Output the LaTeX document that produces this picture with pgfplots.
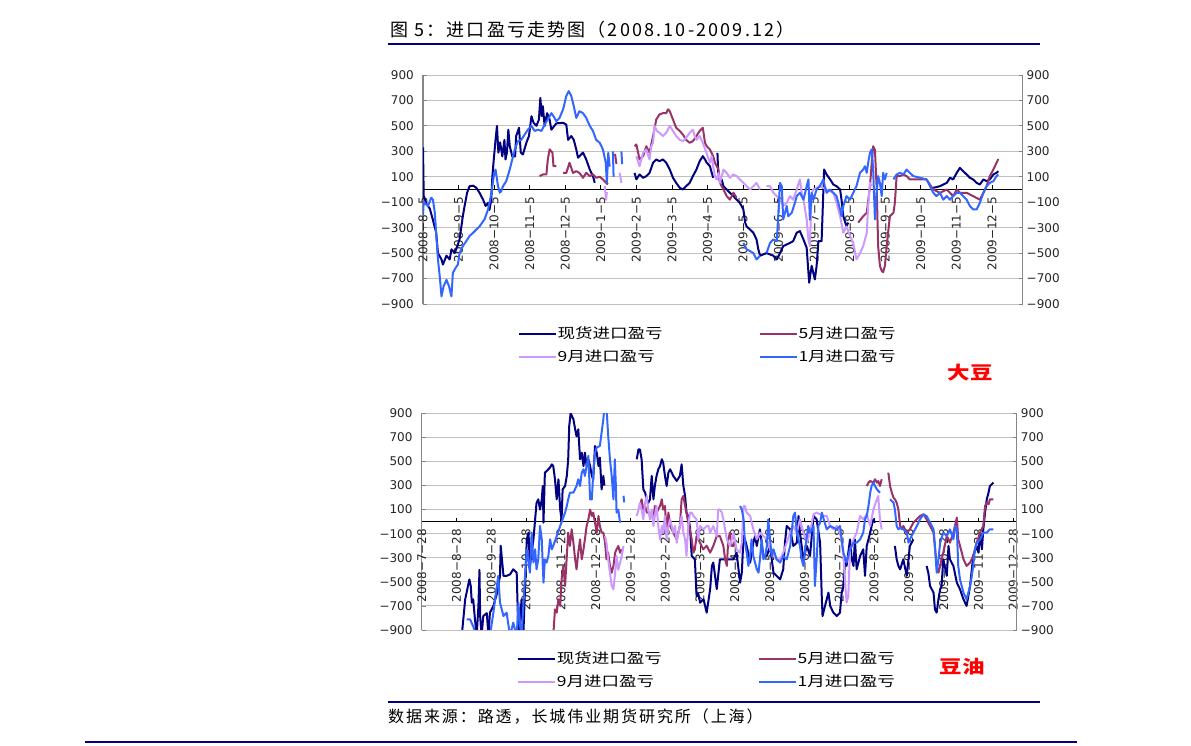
\documentclass[border=0pt]{standalone}
\usepackage{pgfplots}
\pgfplotsset{compat=1.18}
\usepackage{graphicx}
\usepackage{fontspec}
\setmainfont{DejaVu Sans}
\newfontfamily\cjk{Noto Sans CJK SC}
\newfontfamily\cjkls{Noto Sans CJK SC}[LetterSpace=12]
\newfontfamily\dv{DejaVu Sans}
\definecolor{cNavy}{HTML}{000080}
\definecolor{cMaroon}{HTML}{993366}
\definecolor{cLilac}{HTML}{CC99FF}
\definecolor{cBlue}{HTML}{3366FF}
\definecolor{cGrid}{HTML}{C0C0C0}
\definecolor{cAxis}{HTML}{868686}
\definecolor{cRule}{HTML}{000080}

\pgfplotsset{
  frame/.style={
    scale only axis, anchor=south west,
    ymin=-900, ymax=900, xmin=0,
    axis x line=middle, axis y line=left,
    axis line style={-},
    x axis line style={black, line width=1.1pt},
    y axis line style={cAxis, line width=1.3pt},
    hide obscured x ticks=false,
    xtick align=inside, ytick align=inside,
    major tick length=4pt,
    x tick style={black, line width=0.8pt},
    y tick style={cAxis, line width=0.8pt},
    ymajorgrids, grid style={cGrid, line width=0.9pt},
    ytick={-900,-700,-500,-300,-100,100,300,500,700,900},
    yticklabels={−900,−700,−500,−300,−100,100,300,500,700,900},
    yticklabel style={font=\dv\fontsize{12}{13}\selectfont, inner xsep=9pt, text=black!85},
    xticklabel style={font=\dv\fontsize{12}{13}\selectfont, rotate=90, anchor=east, inner xsep=7pt, text=black!85},
  },
  plots/.style={
    scale only axis, anchor=south west,
    ymin=-900, ymax=900, xmin=0, hide axis, clip=true,
    unbounded coords=jump,
    legend columns=2,
    legend image code/.code={\draw[##1, line width=1.8pt] (0pt,0pt) -- (37pt,0pt);},
    legend style={draw=none, fill=none, inner sep=0pt, anchor=north west, row sep=7pt,
      nodes={inner sep=1pt, text height=11pt, text depth=3pt, font=\cjk\fontsize{14}{14}\selectfont}},
    legend cell align=left,
    every axis plot/.append style={line width=2pt, line join=round, mark=none},
  },
  rightax/.style={
    scale only axis, anchor=south west,
    ymin=-900, ymax=900, xmin=0,
    axis x line=none, axis y line=right, axis line style={-},
    y axis line style={cAxis, line width=1.3pt},
    xtick=\empty,
    ytick={-900,-700,-500,-300,-100,100,300,500,700,900},
    yticklabels={−900,−700,−500,−300,−100,100,300,500,700,900},
    ytick align=inside, major tick length=4pt,
    y tick style={cAxis, line width=0.8pt},
    yticklabel style={font=\dv\fontsize{12}{13}\selectfont, inner xsep=4pt, text=black!85},
  },
}
\newcommand{\lgA}[1]{\makebox[200pt][l]{\scalebox{1.25}[1]{#1}}}
\newcommand{\lgB}[1]{\scalebox{1.25}[1]{#1}}

\begin{document}
\begin{tikzpicture}
\fill[white] (0,0) rectangle (1191pt,746pt);

% ---------------- top chart: soybean ----------------
\begin{axis}[frame, at={(423pt,442pt)}, width=599.5pt, height=229pt, xmax=16.86,
  xtick={0,...,16},
  xticklabels={2008−8−5,2008−9−5,2008−10−5,2008−11−5,2008−12−5,2009−1−5,2009−2−5,2009−3−5,2009−4−5,2009−5−5,2009−6−5,2009−7−5,2009−8−5,2009−9−5,2009−10−5,2009−11−5,2009−12−5}]
\end{axis}
\begin{axis}[plots, at={(423pt,442pt)}, width=599.5pt, height=229pt, xmax=16.86,
  legend style={at={(0.158,-0.096)}}]
\addplot[cNavy] coordinates {
(0,330) (0.02,-50) (0.09,-110) (0.19,-150) (0.28,-240) (0.37,-340) (0.42,-500) (0.52,-550) (0.56,-590) (0.66,-520) (0.75,-550) (0.80,-470) (0.89,-500) (0.96,-450) (1.03,-390) (1.08,-290) (1.12,-210) (1.17,-130) (1.24,-26) (1.31,26) (1.41,30) (1.50,13) (1.59,-26) (1.69,-80) (1.76,-130) (1.83,-105) (1.87,-160) (1.92,-80) (1.95,100) (1.99,236) (2.04,390) (2.08,500) (2.12,290) (2.17,370) (2.23,260) (2.29,390) (2.32,236) (2.36,290) (2.40,470) (2.44,340) (2.51,260) (2.59,260) (2.62,420) (2.70,485) (2.75,290) (2.81,275) (2.91,370) (2.98,420) (3.05,576) (3.11,524) (3.19,500) (3.26,550) (3.30,720) (3.34,576) (3.37,655) (3.42,500) (3.49,600) (3.56,550) (3.61,470) (3.75,520) (3.94,524) (4.03,510) (4.08,390) (4.17,420) (4.24,390) (4.31,315) (4.36,250) (4.50,290) (4.59,236) (4.69,157) (4.78,105) (4.83,52)
(4.9,nan)
(5.95,130) (6.00,80) (6.09,118) (6.19,92) (6.28,105) (6.37,130) (6.47,210) (6.56,236) (6.65,222) (6.75,236) (6.84,210) (6.94,157) (7.03,92) (7.12,52) (7.22,13) (7.31,0) (7.40,26) (7.50,52) (7.59,105) (7.69,157) (7.78,222) (7.87,262) (7.93,236) (7.98,210) (8.07,183) (8.12,131) (8.16,92)
(8.2,nan)
(8.28,288) (8.31,79) (8.40,79) (8.45,26) (8.54,0) (8.63,-26) (8.73,-52) (8.82,-80) (8.91,-105) (9.01,-157) (9.06,-260) (9.10,-290) (9.20,-315) (9.29,-340) (9.38,-393) (9.43,-470) (9.48,-520) (9.66,-500) (9.85,-520) (9.95,-550) (10.04,-500) (10.13,-445) (10.23,-432) (10.32,-420) (10.41,-406) (10.51,-340) (10.60,-327) (10.70,-393) (10.79,-458) (10.84,-655) (10.86,-733) (10.93,-600) (11.02,-707) (11.07,-600) (11.12,-406) (11.21,-406) (11.28,157) (11.35,118) (11.45,79) (11.54,39) (11.63,26) (11.73,0) (11.77,-80) (11.82,-210) (11.91,-290) (11.96,-260)
(12.0,nan)
(14.35,13) (14.54,26) (14.73,52) (14.82,92) (14.91,79) (15.01,131) (15.10,170) (15.19,144) (15.29,118) (15.38,92) (15.47,79) (15.57,52) (15.66,39) (15.76,79) (15.85,65) (15.94,79) (16.04,118) (16.13,131) (16.18,144)
};
\addlegendentry{\lgA{现货进口盈亏}}
\addplot[cMaroon] coordinates {
(3.28,105) (3.37,118) (3.47,118) (3.51,236) (3.56,315) (3.64,290) (3.67,183) (3.75,183)
(3.8,nan)
(3.94,130) (4.03,130) (4.12,210) (4.22,130) (4.31,144) (4.40,130) (4.50,92) (4.59,131) (4.69,105) (4.78,118) (4.87,92) (4.97,100) (5.06,79) (5.15,52) (5.20,39)
(5.3,nan)
(5.40,280) (5.44,200)
(5.5,nan)
(5.95,340) (6.00,354) (6.09,236) (6.19,262) (6.28,340) (6.37,290) (6.47,420) (6.56,550) (6.65,590) (6.75,600) (6.84,600) (6.89,630) (6.94,615) (7.03,550) (7.12,485) (7.22,460) (7.31,432) (7.40,390) (7.50,367) (7.59,380) (7.69,420) (7.78,460) (7.87,485) (7.93,367) (7.98,340) (8.07,315) (8.16,262) (8.21,210) (8.31,157) (8.35,52) (8.45,0) (8.54,-52) (8.63,-80) (8.73,-26) (8.82,-65)
(8.9,nan)
(12.24,-260) (12.38,-210) (12.48,-183) (12.57,26) (12.62,210) (12.66,340) (12.71,310) (12.76,0) (12.80,-445) (12.85,-600) (12.90,-640) (12.94,-650) (12.99,-600) (13.04,-445) (13.13,-210) (13.23,-183) (13.27,-105) (13.32,105) (13.41,105) (13.51,118) (13.60,105) (13.69,79) (13.98,79) (14.16,79) (14.35,0) (14.54,-26) (14.73,0) (14.91,-52) (15.01,0) (15.10,-26) (15.29,-26) (15.47,-52) (15.66,-80) (15.76,-26) (15.85,26) (15.94,105) (16.04,157) (16.13,210) (16.18,240)
};
\addlegendentry{\lgB{5月进口盈亏}}
\addplot[cLilac] coordinates {
(5.11,26) (5.15,-80) (5.17,-20)
(5.3,nan)
(5.53,131) (5.58,52)
(5.7,nan)
(6.00,262) (6.09,183) (6.19,290) (6.28,315) (6.37,236) (6.42,340) (6.47,367) (6.51,500) (6.58,460) (6.65,445) (6.75,420) (6.84,445) (6.94,500) (7.03,460) (7.12,420) (7.22,390) (7.31,380) (7.40,406) (7.50,445) (7.59,470) (7.64,420) (7.69,390) (7.78,420) (7.87,367) (7.97,290) (8.07,210) (8.12,262) (8.16,180) (8.21,105) (8.26,79) (8.31,131) (8.35,52) (8.45,157) (8.54,131) (8.63,92) (8.73,118) (8.82,105) (8.91,79) (9.01,52) (9.10,26) (9.20,0) (9.29,26) (9.38,52) (9.43,26) (9.48,0)
(9.55,nan)
(9.66,26) (9.76,26) (9.85,-26) (9.95,-52) (10.04,-80) (10.13,-130) (10.23,-105) (10.32,-52) (10.41,-80) (10.51,0) (10.60,79) (10.65,-26) (10.70,-80) (10.79,-235) (10.84,-393) (10.88,-445) (10.93,-30) (10.98,0) (11.16,26) (11.54,-26) (11.63,-105) (11.73,-210) (11.82,-340) (11.91,-290) (12.01,-365) (12.10,-420) (12.19,-550) (12.29,-500) (12.38,-445) (12.48,-340) (12.52,-130) (12.57,52) (12.62,26)
};
\addlegendentry{\lgA{9月进口盈亏}}
\addplot[cBlue] coordinates {
(0,-200) (0.02,-100) (0.14,-130) (0.23,-65) (0.28,-80) (0.33,-180) (0.37,-340) (0.42,-550) (0.47,-680) (0.52,-840) (0.58,-760) (0.66,-710) (0.73,-760) (0.80,-840) (0.84,-655) (0.92,-615) (0.98,-590) (1.03,-500) (1.12,-445) (1.22,-405) (1.31,-365) (1.41,-340) (1.50,-315) (1.59,-290) (1.73,-235) (1.83,-157) (1.89,-80) (1.95,26) (1.99,105) (2.04,157) (2.11,26) (2.16,-26) (2.20,-13) (2.25,26) (2.34,65) (2.44,157) (2.51,236) (2.58,315) (2.67,380) (2.76,390) (2.86,432) (2.95,470) (3.05,500) (3.14,460) (3.23,470) (3.33,460) (3.42,510) (3.51,550) (3.61,600) (3.67,576) (3.75,537) (3.84,563) (3.94,630) (4.03,735) (4.10,773) (4.17,735) (4.24,655) (4.31,563) (4.40,615) (4.50,600) (4.59,563) (4.69,500) (4.78,460) (4.87,390) (4.97,367) (5.06,315) (5.14,210) (5.17,52) (5.21,288) (5.25,180)
(5.3,nan)
(5.34,300) (5.36,100)
(5.45,nan)
(5.58,300) (5.60,200)
(5.7,nan)
(9.01,-420) (9.10,-470) (9.20,-485) (9.29,-500) (9.38,-550) (9.48,-520)
(9.55,nan)
(9.66,-500) (9.76,-420) (9.85,-393) (9.95,-406) (10.04,52) (10.09,26) (10.13,-235) (10.23,-130) (10.27,-210) (10.37,-183) (10.46,-105) (10.51,-52) (10.60,-26) (10.70,-80) (10.79,26) (10.84,79) (10.88,-235) (10.93,-26) (10.98,-80) (11.07,0) (11.16,26) (11.26,79) (11.30,26) (11.35,-26) (11.45,0) (11.54,-26) (11.63,-52) (11.73,-157) (11.77,-210) (11.82,-130) (11.91,-52) (12.01,-80) (12.10,-26) (12.19,26) (12.29,131) (12.38,157) (12.43,183) (12.48,131) (12.52,210) (12.57,288) (12.62,315) (12.66,157) (12.71,-235) (12.76,-26) (12.80,105) (12.85,52) (12.90,-52) (12.94,131) (12.99,79) (13.04,131)
(13.1,nan)
(13.23,79) (13.32,118) (13.41,131) (13.51,118) (13.60,157) (13.69,131) (13.79,105) (13.98,92) (14.16,79) (14.26,26) (14.35,-26) (14.44,-52) (14.54,-26) (14.63,-80) (14.73,-52) (14.82,-80) (14.91,-52) (15.01,-26) (15.10,-26) (15.19,-52) (15.29,-80) (15.38,-130) (15.47,-157) (15.57,-157) (15.66,-105) (15.76,-26) (15.85,26) (15.94,52) (16.04,65) (16.13,105) (16.18,118)
};
\addlegendentry{\lgB{1月进口盈亏}}
\end{axis}
\begin{axis}[rightax, at={(423pt,442pt)}, width=599.5pt, height=229pt, xmax=16.86]
\end{axis}

% ---------------- bottom chart: soybean oil ----------------
\begin{axis}[frame, at={(421.7pt,116pt)}, width=595pt, height=216.7pt, xmax=17.1,
  xtick={0,...,17},
  xticklabels={2008−7−28,2008−8−28,2008−9−28,2008−10−28,2008−11−28,2008−12−28,2009−1−28,2009−2−28,2009−3−28,2009−4−28,2009−5−28,2009−6−28,2009−7−28,2009−8−28,2009−9−28,2009−10−28,2009−11−28,2009−12−28}]
\end{axis}
\begin{axis}[plots, at={(421.7pt,116pt)}, width=595pt, height=216.7pt, xmax=17.1,
  legend style={at={(0.160,-0.097)}}]
\addplot[cNavy] coordinates {
(1.15,-950) (1.25,-645) (1.29,-590) (1.37,-480) (1.41,-535) (1.44,-673) (1.48,-645) (1.53,-810) (1.58,-950) (1.63,-700) (1.66,-400) (1.68,-784) (1.72,-950) (1.77,-784) (1.87,-760) (1.92,-950) (1.96,-756) (2.06,-700) (2.16,-600) (2.25,-450) (2.27,-200) (2.35,-450) (2.44,-450) (2.54,-438) (2.63,-396) (2.73,-424) (2.78,-950) (2.83,-810) (2.87,-645) (2.92,-950) (3.02,-147) (3.07,-91) (3.11,-368) (3.21,-150) (3.30,155) (3.35,185) (3.40,100) (3.45,185) (3.48,296) (3.50,-8) (3.54,407) (3.59,420) (3.69,450) (3.74,476) (3.78,462) (3.83,352) (3.88,185) (3.93,352) (3.98,100) (4.02,19) (4.05,268) (4.12,296) (4.17,380) (4.21,518) (4.24,795) (4.28,900) (4.36,850) (4.41,767) (4.45,709) (4.50,767) (4.55,518) (4.60,573) (4.65,462) (4.69,573) (4.74,462) (4.79,518) (4.84,462) (4.89,380) (4.93,352) (4.98,629) (5.03,573) (5.08,462) (5.12,532) (5.17,268) (5.22,380) (5.25,300)
(5.3,nan)
(6.18,518) (6.23,600) (6.27,600) (6.32,518) (6.37,268) (6.42,241) (6.47,185) (6.51,155) (6.56,185) (6.61,380) (6.66,185) (6.70,296) (6.75,380) (6.80,435) (6.85,462) (6.90,518) (6.94,490) (6.99,380) (7.04,296) (7.09,407) (7.14,435) (7.23,380) (7.33,338) (7.42,380) (7.47,476) (7.52,296) (7.57,213) (7.61,75) (7.66,47) (7.71,-50) (7.76,-285) (7.85,-313) (7.90,-618) (7.95,-600) (8.00,-673) (8.10,-645) (8.19,-756) (8.29,-560) (8.34,-368) (8.38,-340) (8.48,-560) (8.57,-313) (8.96,-313) (9.05,-258) (9.15,-507) (9.20,-424) (9.25,-120) (9.29,-147) (9.34,-202) (9.44,-340) (9.53,-175) (9.58,-120) (9.63,-202) (9.72,-64) (9.82,-285) (9.92,-285) (10.01,-202) (10.11,-424) (10.20,-450) (10.30,-480) (10.39,-396) (10.44,-175) (10.49,-36) (10.59,-64) (10.68,-202) (10.78,-175) (10.83,47) (10.87,-91) (10.97,-313) (11.07,-202) (11.16,-285) (11.26,47) (11.35,19) (11.45,-175) (11.50,-645) (11.52,-784) (11.59,-700) (11.69,-590) (11.74,-700) (11.83,-756) (11.93,-784) (12.02,-756) (12.07,-590) (12.12,-535) (12.17,-313) (12.21,-368) (12.31,-147) (12.36,-313) (12.41,-368) (12.45,-147) (12.50,-396) (12.60,-285) (12.69,-230) (12.74,-450) (12.79,-202) (12.89,-91) (12.93,-36) (12.98,19) (13.03,-8)
(13.1,nan)
(13.60,-202) (13.65,-313) (13.70,-368) (13.75,-396) (13.84,-313) (13.94,-450) (14.03,-202) (14.13,-147)
(14.2,nan)
(14.51,-368) (14.56,-424) (14.61,-535) (14.71,-590) (14.75,-728) (14.80,-756) (14.85,-645) (14.90,-562) (14.94,-535) (14.99,-313) (15.09,-450) (15.14,-202) (15.18,-313) (15.28,-368) (15.38,-507) (15.47,-562) (15.57,-645) (15.66,-700) (15.76,-535) (15.85,-285) (15.95,-202) (16.00,-258) (16.05,-91) (16.10,-230) (16.14,-64) (16.19,75) (16.24,185) (16.29,241) (16.33,296) (16.38,310) (16.43,324)
};
\addlegendentry{\lgA{现货进口盈亏}}
\addplot[cMaroon] coordinates {
(3.78,-950) (3.83,-728) (3.88,-756) (3.93,-645) (3.98,-700) (4.02,-480) (4.07,-368) (4.12,-535) (4.17,-285) (4.21,-91) (4.26,-202) (4.31,-64) (4.36,-175) (4.41,-313) (4.45,-396) (4.50,-258) (4.55,-147) (4.60,-313) (4.65,-230) (4.69,-147) (4.74,-36) (4.79,19) (4.84,100) (4.89,47) (4.93,75) (4.98,-8) (5.03,-91) (5.08,47) (5.12,-36) (5.17,-91) (5.22,-91) (5.27,-175) (5.31,-313) (5.36,-258) (5.41,-368) (5.46,-424) (5.51,-368) (5.56,-258) (5.60,-230) (5.65,-202) (5.70,-258) (5.75,-230)
(5.8,nan)
(6.27,130) (6.32,185) (6.37,100) (6.42,130) (6.47,75) (6.56,75) (6.66,19) (6.70,130) (6.75,75) (6.85,130) (6.90,185) (6.94,100) (6.99,130) (7.04,-91) (7.09,75) (7.14,-36) (7.23,-91) (7.33,-147) (7.42,-36) (7.47,185) (7.52,213) (7.57,130) (7.61,75) (7.66,-8) (7.71,-64) (7.76,-147) (7.81,-258) (7.85,-230) (7.90,-120) (8.00,-175) (8.09,-230) (8.19,-200) (8.29,-258) (8.38,-202) (8.48,-120) (8.57,-120) (8.67,-202) (8.72,-313) (8.77,-368) (8.81,-147) (8.86,-91) (8.91,-202) (8.96,-202) (9.01,-147)
(9.1,nan)
(12.79,296) (12.84,324) (12.89,338) (12.98,324) (13.03,352) (13.08,324) (13.12,338) (13.17,296) (13.22,352)
(13.3,nan)
(13.41,407) (13.46,296) (13.51,241) (13.56,199) (13.60,185) (13.65,158) (13.70,100) (13.75,-36) (13.80,-64) (13.84,-36) (13.94,-91) (14.03,-64) (14.13,-8) (14.32,47) (14.42,61) (14.51,19) (14.61,-36) (14.71,-91) (14.80,-368) (14.85,-424) (14.90,-368) (14.94,-313) (14.99,-258) (15.09,-120) (15.14,-147) (15.18,-175) (15.28,-91) (15.38,33) (15.42,-147) (15.47,-200) (15.57,-313) (15.66,-368) (15.76,-340) (15.85,-285) (15.95,-175) (16.05,-91) (16.14,-36) (16.19,130) (16.24,158) (16.29,144) (16.33,185) (16.43,185)
};
\addlegendentry{\lgB{5月进口盈亏}}
\addplot[cLilac] coordinates {
(5.27,-120) (5.31,-175) (5.36,-313) (5.41,-424) (5.46,-535) (5.51,-562) (5.56,-424) (5.60,-285) (5.65,-400) (5.75,-285) (5.80,-202)
(5.9,nan)
(6.18,47) (6.23,100) (6.27,155) (6.32,100) (6.37,19) (6.42,155) (6.47,213) (6.51,100) (6.56,19) (6.61,100) (6.66,-36) (6.70,47) (6.75,130) (6.80,-36) (6.85,-147) (6.90,-36) (6.94,-91) (6.99,47) (7.04,-147) (7.09,-36) (7.14,19) (7.23,-91) (7.28,-36) (7.33,-175) (7.38,-91) (7.42,-36) (7.47,47) (7.52,-91) (7.57,-147) (7.61,-285) (7.66,-36) (7.71,75) (7.76,75) (7.81,47) (7.90,19) (7.95,-147) (8.00,-36) (8.10,-64) (8.19,-36) (8.24,-36) (8.29,-91) (8.38,-36) (8.48,-120) (8.52,100) (8.57,100) (8.62,80) (8.67,19) (8.77,-147) (8.86,-202) (8.96,-91) (9.05,-230) (9.15,-258) (9.20,-175) (9.25,130) (9.29,130) (9.34,75) (9.44,47) (9.53,-64) (9.63,-147) (9.72,-91) (9.82,-120) (9.92,-147) (10.01,-230) (10.11,-285) (10.20,-313) (10.30,-313) (10.39,-258) (10.49,-175) (10.59,-91) (10.68,-36) (10.78,-91) (10.87,19) (10.97,-91) (11.07,-175) (11.16,-91) (11.26,61) (11.35,75) (11.45,61) (11.54,47) (11.64,47) (11.74,-36) (11.83,-64) (11.93,-36) (12.02,-91) (12.07,-175) (12.12,-285) (12.17,-507) (12.21,-673) (12.26,-620) (12.31,-230) (12.36,-202) (12.41,-147) (12.50,-91) (12.60,47) (12.69,19) (12.79,61) (12.89,-36) (12.98,100) (13.08,185) (13.12,213) (13.17,19) (13.22,-64)
};
\addlegendentry{\lgA{9月进口盈亏}}
\addplot[cBlue] coordinates {
(1.29,-811) (1.39,-811) (1.48,-870) (1.58,-950) (1.77,-950) (1.96,-950) (2.06,-756) (2.16,-535) (2.20,-450) (2.25,-673) (2.35,-784) (2.44,-756) (2.54,-950) (2.63,-839) (2.73,-950) (2.78,-673) (2.83,-870) (2.87,-950) (2.92,-700) (2.97,-450) (3.02,-230) (3.11,-424) (3.16,-91) (3.21,-340) (3.26,-230) (3.30,-396) (3.35,-313) (3.40,-36) (3.45,-147) (3.50,-507) (3.54,-313) (3.59,-340) (3.64,-285) (3.69,-147) (3.74,-230) (3.78,-202) (3.88,-120) (3.98,-36) (4.05,19) (4.12,75) (4.17,130) (4.21,185) (4.26,241) (4.36,241) (4.45,296) (4.50,352) (4.55,296) (4.60,407) (4.65,435) (4.69,380) (4.74,462) (4.79,546) (4.84,185) (4.89,185) (4.93,407) (4.98,573) (5.03,615) (5.12,629) (5.22,850) (5.25,950) (5.31,950) (5.36,712) (5.41,518) (5.46,380) (5.51,185) (5.55,518) (5.58,300) (5.60,75) (5.65,100) (5.70,-8)
(5.75,nan)
(5.80,215) (5.82,160)
(5.9,nan)
(9.15,130) (9.20,100) (9.25,19) (9.29,-175) (9.34,-258) (9.39,-368) (9.44,-285) (9.48,-147) (9.53,-285) (9.63,-396) (9.68,-424) (9.72,-313) (9.77,-147) (9.82,-313) (9.87,-285) (9.92,-202) (9.96,19) (10.01,-147) (10.06,-285) (10.11,-230) (10.20,-313) (10.30,-340) (10.39,-285) (10.49,-313) (10.59,-202) (10.68,47) (10.73,75) (10.78,-91) (10.87,-202) (10.92,-313) (10.97,-368) (11.02,-230) (11.07,-120) (11.11,-36) (11.16,-91) (11.26,-36) (11.30,-535) (11.35,-313) (11.40,-36) (11.45,-8) (11.50,75) (11.54,33) (11.64,-64) (11.74,-36) (11.83,-50) (11.93,-64) (12.02,-36) (12.12,-258) (12.21,-340) (12.31,-230) (12.41,-175) (12.50,-175) (12.60,-147) (12.69,-91) (12.74,19) (12.79,47) (12.84,130) (12.89,241) (12.93,296) (12.98,324) (13.03,296) (13.08,268) (13.17,241)
(13.3,nan)
(13.46,185) (13.56,158) (13.60,100) (13.65,-36) (13.70,-64) (13.75,-50) (13.84,-64) (13.94,-91) (13.99,-175) (14.03,-147) (14.13,-91) (14.23,-36) (14.32,19) (14.42,61) (14.51,47) (14.61,-8) (14.71,-64) (14.75,-202) (14.80,-424) (14.85,-313) (14.90,-175) (14.99,-91) (15.09,-120) (15.14,-91) (15.18,-64) (15.28,-147) (15.33,-36) (15.38,-64) (15.42,-368) (15.47,-480) (15.57,-590) (15.66,-645) (15.76,-535) (15.81,-450) (15.85,-368) (15.90,-230) (15.95,-175) (16.05,-147) (16.14,-91) (16.24,-91) (16.33,-64) (16.43,-64)
};
\addlegendentry{\lgB{1月进口盈亏}}
\end{axis}
\begin{axis}[rightax, at={(421.7pt,116pt)}, width=595pt, height=216.7pt, xmax=17.1]
\end{axis}

% ---------------- texts and rules ----------------
\node[anchor=base west, inner sep=0pt, font=\cjkls\fontsize{18}{18}\selectfont] at (390pt,709pt) {图 5：进口盈亏走势图（2008.10-2009.12）};
\draw[cRule, line width=1.5pt] (388pt,702pt) -- (1040pt,702pt);
\node[text=red, font=\cjk\fontsize{18}{18}\selectfont\bfseries] at (970pt,373pt) {\scalebox{1.25}[1]{大豆}};
\node[text=red, font=\cjk\fontsize{18}{18}\selectfont\bfseries] at (962pt,79pt) {\scalebox{1.25}[1]{豆油}};
\draw[cRule, line width=1.5pt] (388pt,44pt) -- (1040pt,44pt);
\node[anchor=base west, inner sep=0pt, font=\cjkls\fontsize{16}{16}\selectfont] at (388pt,23pt) {数据来源：路透，长城伟业期货研究所（上海）};
\draw[cRule, line width=2pt] (85pt,4pt) -- (1077pt,4pt);
\pgfresetboundingbox
\path (0,0) rectangle (1191pt,746pt);
\end{tikzpicture}
\end{document}
